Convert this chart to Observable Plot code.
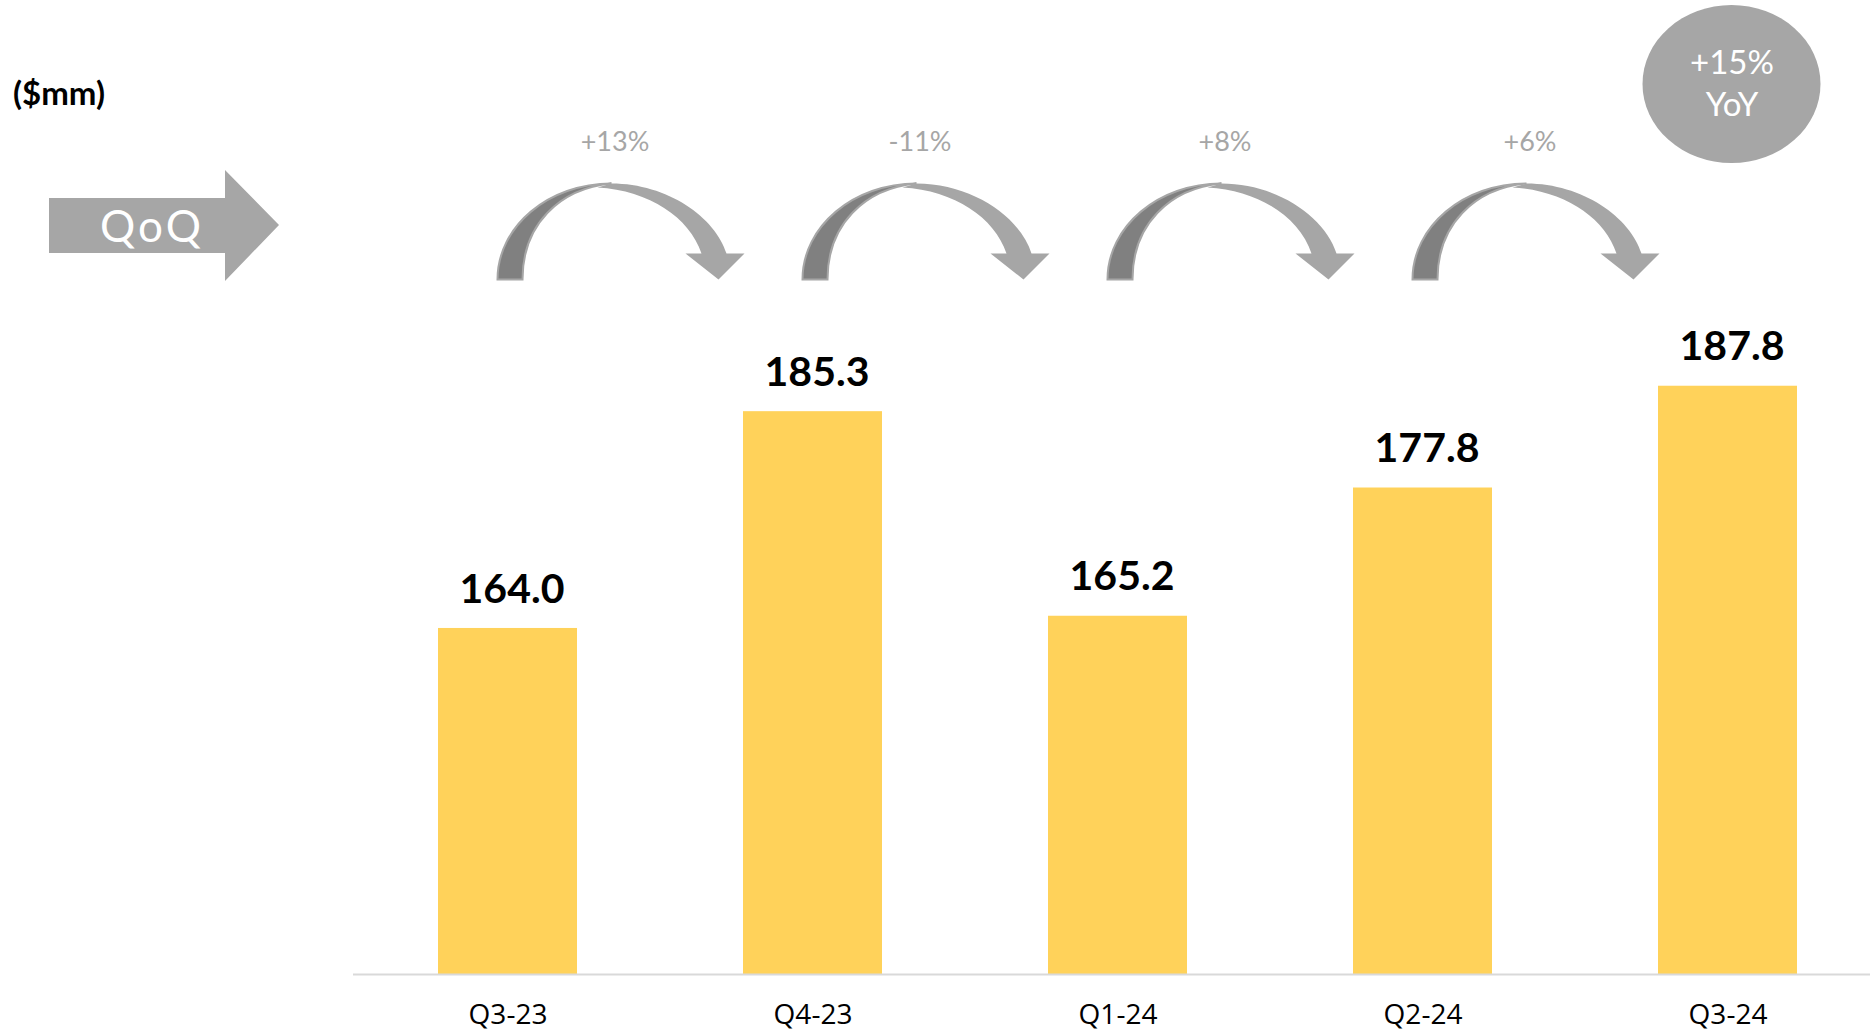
<!DOCTYPE html>
<html>
<head>
<meta charset="utf-8">
<script src="https://cdn.jsdelivr.net/npm/d3@7"></script>
<script src="https://cdn.jsdelivr.net/npm/@observablehq/plot@0.6"></script>
<style>
  html, body { margin: 0; padding: 0; background: #ffffff; }
  #chart { position: relative; width: 1870px; height: 1034px; }
</style>
</head>
<body>
<div id="chart"></div>
<script>
// ---- data ----
const categories = ["Q3-23", "Q4-23", "Q1-24", "Q2-24", "Q3-24"];
const values = [164.0, 185.3, 165.2, 177.8, 187.8];
const qoqLabels = ["+13%", "-11%", "+8%", "+6%"];
const yoyLabels = ["+15%", "YoY"];
const unitLabel = "($mm)";
const qoqTag = "QoQ";
const yMin = 130;
const yMax = 225.7;

const data = categories.map((c, i) => ({cat: c, value: values[i]}));
const qoqData = qoqLabels.map((l, i) => ({from: categories[i], to: categories[i + 1], label: l}));

const BAR = "#ffd25a";
const GREY = "#a6a6a6";
const DARK = "#808080";

const svgEl = Plot.plot({
  width: 1870,
  height: 1034,
  marginLeft: 353,
  marginRight: 0,
  marginTop: 0,
  marginBottom: 60,
  style: {fontFamily: "'Open Sans', sans-serif", fontSize: "28px", background: "#ffffff", color: "#000000"},
  x: {domain: categories, range: [353, 1881], paddingInner: 0.545, paddingOuter: 0.2725, label: null, tickSize: 0, tickPadding: 30},
  y: {domain: [yMin, yMax], axis: null},
  marks: [
    Plot.barY(data, {x: "cat", y1: yMin, y2: "value", fill: BAR}),
    Plot.ruleY([yMin], {stroke: "#d9d9d9", strokeWidth: 2}),
    Plot.text(data, {x: "cat", y: "value", text: d => d.value.toFixed(1), dy: -39, dx: 4,
      fontSize: 41, fontWeight: "bold", fontFamily: "Lato", fill: "#000000"}),
    Plot.text(qoqData, {x: "from", text: "label", frameAnchor: "top", lineAnchor: "middle", dy: 142, dx: 107,
      fontSize: 27, fontWeight: 400, fontFamily: "Lato", fill: GREY}),
    Plot.text([yoyLabels[0]], {x: () => categories[categories.length - 1], text: d => d, frameAnchor: "top", lineAnchor: "middle", dy: 63, dx: 4,
      fontSize: 33, fontWeight: 400, fontFamily: "Lato", fill: "#ffffff"}),
    Plot.text([yoyLabels[1]], {x: () => categories[categories.length - 1], text: d => d, frameAnchor: "top", lineAnchor: "middle", dy: 105, dx: 4,
      fontSize: 33, fontWeight: 400, fontFamily: "Lato", fill: "#ffffff"})
  ]
});

document.getElementById("chart").appendChild(svgEl);

// ---- annotations positioned from the Plot x scale ----
const xs = svgEl.scale("x");
const bw = xs.bandwidth;
const cx = c => xs.apply(c) + bw / 2;
const svg = d3.select(svgEl);

// YoY ellipse (behind its text)
const bg = document.createElementNS("http://www.w3.org/2000/svg", "g");
svgEl.insertBefore(bg, svgEl.firstChild);
d3.select(bg).append("ellipse")
  .attr("cx", cx(categories[categories.length - 1]) + 4)
  .attr("cy", 84)
  .attr("rx", 89)
  .attr("ry", 79)
  .attr("fill", GREY);

// curved QoQ arrows between consecutive bars
const arrows = svg.append("g");
qoqData.forEach(d => {
  const g = arrows.append("g")
    .attr("transform", `translate(${cx(d.from) - 10},279.5)`);
  g.append("path")
    .attr("d", "M0,0 C0,-53 51,-96 114,-96 C62,-91 25,-55 25,0 Z")
    .attr("fill", DARK)
    .attr("stroke", GREY)
    .attr("stroke-width", 2);
  g.append("path")
    .attr("d", "M114,-96 C170,-96 218,-62 229,-26 L247,-26 L221,0 L188,-26 L204,-26 C192,-62 152,-89 100,-92 Z")
    .attr("fill", GREY);
});

// unit label
svg.append("text")
  .attr("x", 13)
  .attr("y", 93)
  .attr("dy", "0.35em")
  .attr("text-anchor", "start")
  .attr("font-family", "Lato")
  .attr("font-weight", "bold")
  .attr("font-size", 33)
  .attr("fill", "#000000")
  .text(unitLabel);

// QoQ block arrow
const q = svg.append("g");
q.append("polygon")
  .attr("points", "49,198 225,198 225,170 279,225 225,281 225,253 49,253")
  .attr("fill", GREY);
q.append("text")
  .attr("x", 152)
  .attr("y", 226)
  .attr("dy", "0.36em")
  .attr("text-anchor", "middle")
  .attr("font-family", "Lato")
  .attr("font-size", 44)
  .attr("letter-spacing", 3)
  .attr("fill", "#ffffff")
  .text(qoqTag);
</script>
</body>
</html>
